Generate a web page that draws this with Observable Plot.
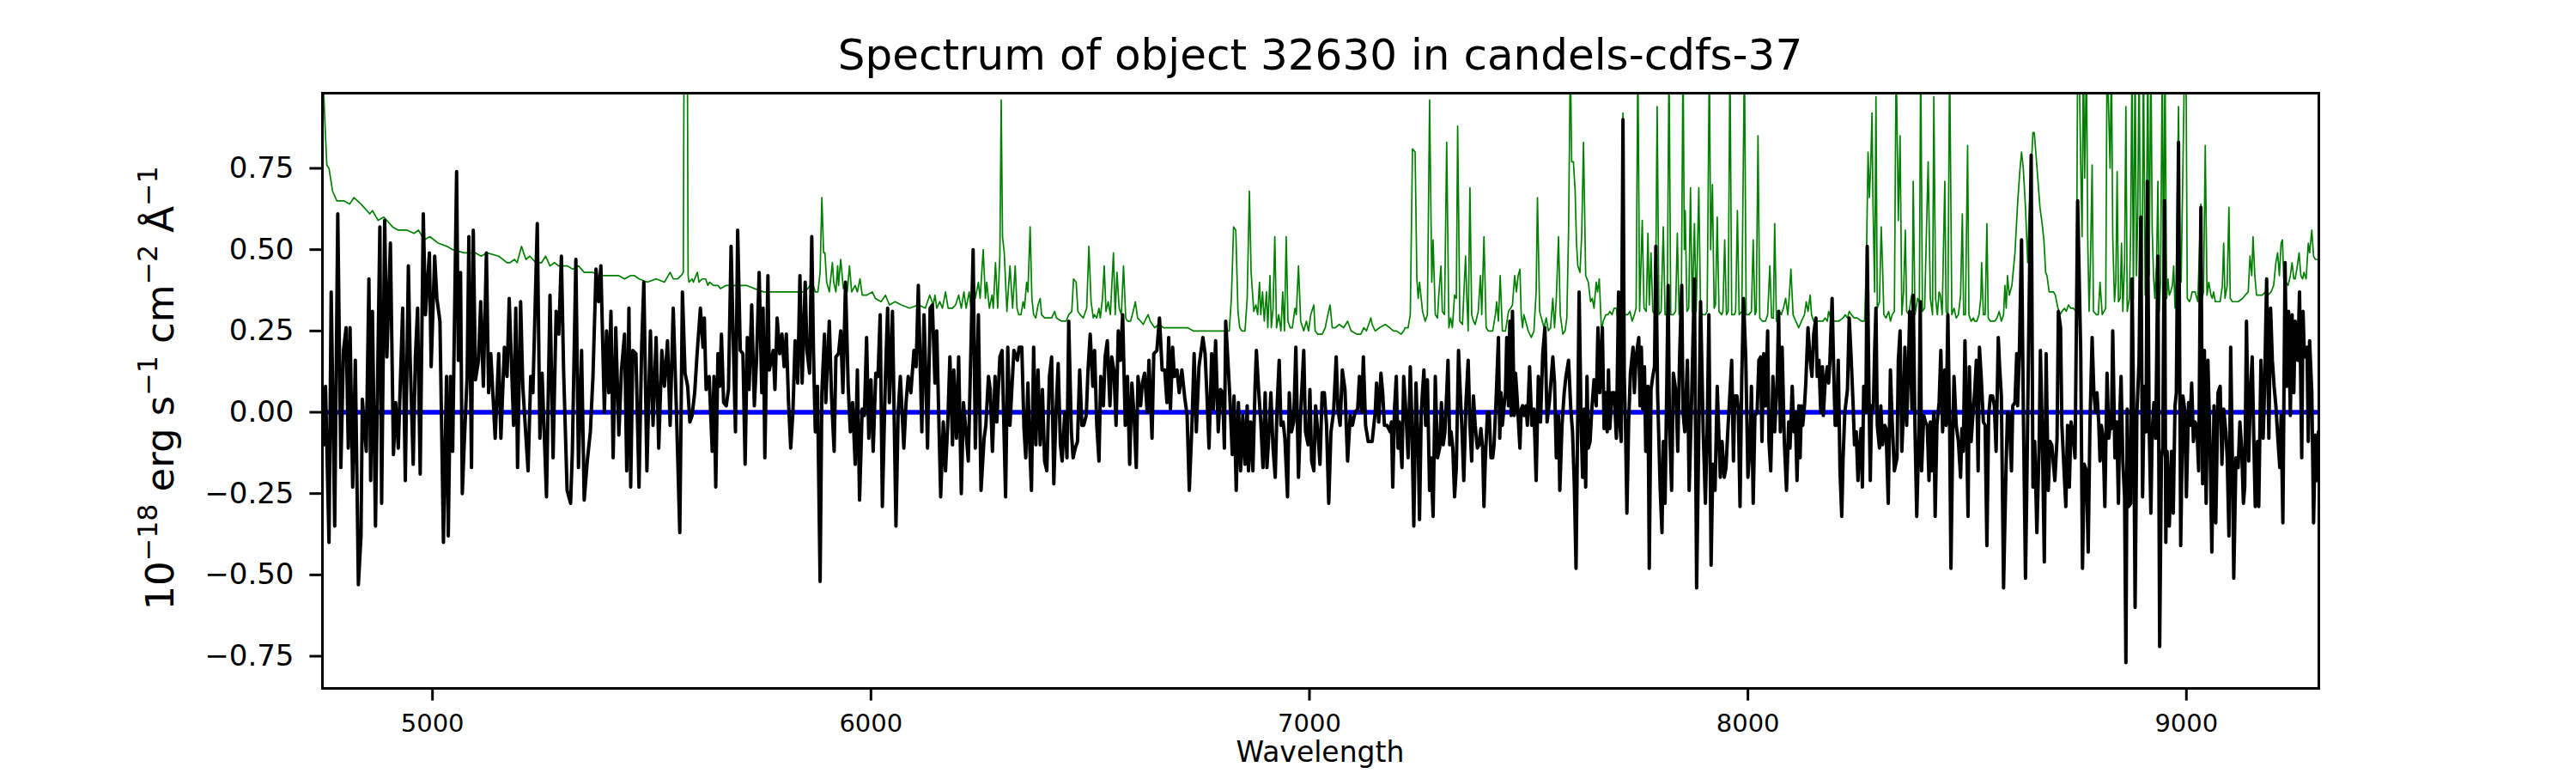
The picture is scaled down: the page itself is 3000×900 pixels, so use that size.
<!DOCTYPE html>
<html><head><meta charset="utf-8">
<script src="https://cdn.jsdelivr.net/npm/d3@7"></script>
<script src="https://cdn.jsdelivr.net/npm/@observablehq/plot@0.6"></script>
<style>html,body{margin:0;padding:0;background:#fff;} svg{display:block;}</style>
</head><body><div id="chart"></div>
<script>
const titleText = "Spectrum of object 32630 in candels-cdfs-37";
const xLabelText = "Wavelength";
const xTicks = [5000, 6000, 7000, 8000, 9000];
const yTicks = [-0.75, -0.5, -0.25, 0, 0.25, 0.5, 0.75];
const xDomain = [4749, 9302];
const yDomain = [-0.849, 0.981];
const modelLine = [[4749, 0], [9302, 0]];

const fluxPoints = [
[4750,0.07],[4752,-0.10],[4756,0.08],[4764,-0.40],[4769,0.37],[4777,-0.35],[4784,0.61],[4791,-0.17],[4797,0.19],[4803,0.26],[4808,-0.11],[4812,0.26],[4818,-0.23],[4824,0.16],[4831,-0.53],[4837,-0.38],[4840,0.04],[4849,-0.12],[4855,0.41],[4859,-0.21],[4863,0.31],[4870,-0.35],[4880,0.57],[4884,-0.28],[4891,0.59],[4896,0.17],[4904,0.52],[4911,-0.13],[4916,0.03],[4922,-0.11],[4932,0.32],[4938,-0.21],[4945,0.45],[4949,0.17],[4956,-0.16],[4961,0.17],[4966,0.32],[4972,-0.19],[4979,0.61],[4984,0.30],[4993,0.49],[4997,0.14],[5005,0.48],[5010,0.35],[5017,0.28],[5025,-0.40],[5032,0.11],[5036,-0.38],[5041,0.11],[5046,-0.12],[5055,0.74],[5059,0.16],[5064,0.43],[5068,-0.25],[5072,-0.11],[5079,0.11],[5083,0.54],[5089,-0.17],[5093,0.56],[5098,0.10],[5105,0.16],[5110,0.34],[5116,0.08],[5123,0.49],[5128,0.06],[5133,0.18],[5143,-0.08],[5151,0.18],[5156,-0.08],[5164,0.20],[5170,0.11],[5175,0.35],[5185,-0.04],[5190,0.32],[5194,-0.17],[5201,0.34],[5206,0.08],[5211,-0.03],[5218,-0.18],[5224,0.11],[5229,0.06],[5239,0.58],[5245,-0.08],[5250,0.12],[5260,-0.26],[5268,0.36],[5275,-0.14],[5282,0.31],[5288,0.24],[5294,0.48],[5299,0.13],[5307,-0.24],[5315,-0.28],[5319,-0.12],[5327,0.47],[5333,-0.17],[5340,0.19],[5346,-0.27],[5353,-0.15],[5360,-0.06],[5366,0.11],[5373,0.44],[5379,0.34],[5384,0.45],[5392,0.00],[5397,0.25],[5402,0.06],[5407,0.31],[5412,-0.14],[5418,0.26],[5425,-0.07],[5431,0.13],[5438,0.24],[5443,-0.18],[5448,0.32],[5452,-0.23],[5457,0.19],[5464,0.18],[5471,-0.23],[5477,0.20],[5482,0.40],[5489,-0.18],[5497,0.25],[5503,-0.04],[5510,0.23],[5516,-0.11],[5523,0.19],[5529,0.08],[5536,0.22],[5542,-0.04],
[5549,0.32],[5556,0.02],[5564,-0.37],[5570,0.37],[5576,0.12],[5582,0.08],[5587,-0.03],[5592,-0.01],[5598,0.06],[5603,0.17],[5611,0.32],[5617,0.20],[5620,0.29],[5624,0.07],[5631,0.11],[5638,-0.12],[5642,0.11],[5646,-0.23],[5651,0.18],[5655,0.08],[5659,0.24],[5664,0.03],[5670,0.02],[5675,0.07],[5681,0.51],[5687,0.16],[5691,-0.06],[5696,0.56],[5702,0.19],[5708,0.18],[5713,-0.16],[5718,0.23],[5722,0.07],[5728,0.33],[5734,0.02],[5739,0.16],[5745,0.43],[5751,0.06],[5754,0.32],[5758,-0.14],[5765,0.42],[5768,0.13],[5773,0.16],[5777,0.19],[5781,0.07],[5786,0.29],[5792,0.18],[5797,0.24],[5802,0.14],[5807,0.24],[5812,0.03],[5817,-0.11],[5822,0.00],[5827,0.22],[5833,0.09],[5838,0.42],[5843,0.09],[5850,0.40],[5854,0.19],[5860,0.12],[5865,0.54],[5869,0.18],[5873,-0.06],[5878,0.08],[5884,-0.52],[5888,0.06],[5894,0.24],[5897,0.03],[5905,0.28],[5910,0.05],[5916,-0.12],[5920,0.17],[5926,0.18],[5931,0.25],[5936,0.06],[5942,0.40],[5948,0.08],[5953,-0.06],[5958,0.03],[5964,-0.16],[5969,0.13],[5974,-0.27],[5980,0.01],[5985,-0.01],[5990,0.23],[5995,-0.08],[6000,0.10],[6005,-0.12],[6011,0.12],[6016,0.11],[6021,0.30],[6026,-0.29],[6033,0.11],[6038,0.32],[6042,0.03],[6049,0.31],[6057,-0.35],[6062,0.00],[6067,0.11],[6075,-0.11],[6080,0.03],[6085,0.11],[6091,0.06],[6098,0.19],[6103,0.14],[6108,0.39],[6116,-0.06],[6121,0.30],[6125,0.12],[6129,-0.11],[6135,0.32],[6140,0.33],[6146,0.09],[6150,0.25],[6159,-0.26],[6165,-0.03],[6170,-0.18],[6175,-0.04],[6180,0.17],[6186,-0.10],[6189,0.13],[6195,-0.08],[6200,0.17],[6206,-0.25],[6211,0.03],[6216,-0.05],[6222,-0.15],[6227,0.14],[6233,0.50],[6238,-0.11],[6245,0.30],[6251,-0.24],[6258,-0.08],[6262,-0.04],[6268,0.11],[6272,0.07],[6277,-0.12],[6283,0.11],[6287,-0.03],[6294,0.17],[6299,0.19],[6307,-0.26],[6312,0.20],[6317,-0.04],[6322,0.09],[6326,0.19],
[6334,0.16],[6338,0.20],[6344,0.20],[6349,-0.05],[6353,-0.14],[6358,0.09],[6362,-0.10],[6366,-0.24],[6371,0.20],[6376,-0.10],[6381,0.13],[6386,-0.10],[6391,0.07],[6396,-0.15],[6401,-0.18],[6407,0.11],[6412,0.17],[6417,-0.22],[6422,0.00],[6427,0.15],[6432,-0.10],[6436,-0.15],[6442,0.00],[6447,-0.14],[6451,0.28],[6457,-0.06],[6461,-0.14],[6466,-0.11],[6471,-0.09],[6476,0.13],[6481,-0.04],[6485,-0.04],[6491,-0.01],[6495,0.13],[6500,0.24],[6506,0.08],[6510,0.19],[6515,-0.04],[6520,-0.15],[6524,0.11],[6530,0.02],[6534,0.17],[6539,0.22],[6545,0.02],[6549,0.17],[6554,0.13],[6559,-0.04],[6564,0.25],[6569,0.16],[6574,0.30],[6580,-0.04],[6585,0.11],[6590,-0.16],[6595,0.09],[6600,-0.01],[6605,-0.17],[6609,0.11],[6615,0.02],[6619,0.09],[6624,0.12],[6630,0.00],[6634,0.16],[6641,-0.08],[6645,0.18],[6652,0.19],[6658,0.29],[6664,0.13],[6670,0.13],[6675,0.03],[6679,0.23],[6683,0.01],[6688,0.20],[6692,0.11],[6698,0.13],[6703,0.06],[6709,0.13],[6716,0.04],[6721,-0.01],[6726,-0.24],[6732,-0.04],[6737,0.18],[6742,-0.06],[6748,0.14],[6752,0.18],[6757,0.23],[6762,0.18],[6766,0.06],[6771,-0.11],[6777,0.18],[6781,0.01],[6786,0.22],[6792,-0.06],[6797,0.07],[6802,0.06],[6806,-0.11],[6809,0.28],[6814,0.16],[6818,0.06],[6824,-0.13],[6828,0.05],[6833,-0.24],[6838,0.03],[6843,-0.18],[6848,-0.01],[6853,-0.16],[6858,0.02],[6861,-0.18],[6866,-0.03],[6871,-0.18],[6876,0.08],[6879,0.19],[6884,0.07],[6889,-0.03],[6894,-0.17],[6899,0.06],[6903,-0.17],[6907,-0.08],[6912,0.06],[6917,-0.11],[6922,-0.20],[6926,0.01],[6931,0.16],[6935,-0.04],[6940,-0.03],[6944,-0.08],[6950,-0.26],[6954,0.06],[6959,-0.06],[6964,-0.03],[6969,0.20],[6975,-0.20],[6980,0.00],[6987,0.19],[6991,-0.06],[6997,-0.10],[7001,0.07],[7005,-0.15],[7010,-0.18],[7014,0.02],[7019,-0.06],[7024,-0.16],[7029,0.06],[7034,0.06],[7039,-0.04],[7044,-0.28],[7049,-0.06],[7055,0.00],[7061,0.17],[7065,0.01],[7070,-0.04],[7075,0.13],[7081,0.07],[7087,-0.15],[7093,-0.01],[7098,-0.04],[7104,0.00],[7110,0.01],[7114,0.11],[7119,0.00],[7123,0.17],[7128,-0.04],[7134,-0.09],
[7143,-0.09],[7150,0.00],[7153,0.09],[7158,-0.03],[7163,0.12],[7167,0.06],[7171,-0.04],[7177,-0.04],[7184,-0.06],[7187,-0.03],[7190,-0.23],[7194,0.01],[7198,0.11],[7202,-0.11],[7205,-0.03],[7211,-0.17],[7215,0.11],[7220,0.00],[7225,-0.14],[7230,0.14],[7233,0.00],[7238,-0.35],[7243,0.09],[7248,-0.11],[7251,-0.33],[7255,0.00],[7261,0.13],[7265,-0.04],[7269,0.10],[7274,-0.24],[7277,-0.14],[7282,-0.32],[7287,0.11],[7292,-0.14],[7297,-0.11],[7301,0.03],[7305,-0.10],[7309,-0.06],[7313,0.06],[7316,0.16],[7320,-0.10],[7323,-0.06],[7327,-0.11],[7331,-0.26],[7335,-0.17],[7340,0.19],[7344,0.06],[7348,-0.06],[7352,-0.21],[7357,0.03],[7362,0.16],[7366,-0.04],[7370,-0.15],[7374,0.05],[7378,-0.04],[7383,-0.11],[7387,-0.10],[7391,-0.05],[7395,-0.11],[7398,-0.29],[7401,-0.15],[7406,0.00],[7410,0.00],[7414,-0.14],[7418,-0.14],[7421,-0.10],[7426,0.05],[7431,0.23],[7434,-0.08],[7437,0.06],[7440,-0.04],[7444,0.02],[7447,0.06],[7450,0.23],[7454,0.02],[7457,0.28],[7460,-0.01],[7463,0.31],[7467,-0.01],[7470,0.12],[7473,0.06],[7480,-0.11],[7483,0.01],[7486,0.02],[7490,-0.01],[7494,0.02],[7497,-0.04],[7502,0.14],[7507,-0.04],[7512,0.01],[7517,-0.21],[7522,0.11],[7527,-0.03],[7532,0.18],[7537,0.26],[7542,-0.03],[7547,0.03],[7550,0.08],[7555,0.17],[7559,0.09],[7563,-0.14],[7568,-0.01],[7571,-0.24],[7576,-0.04],[7581,0.06],[7585,0.11],[7591,0.16],[7596,0.01],[7600,-0.06],[7604,-0.22],[7608,-0.48],[7612,0.00],[7615,0.37],[7620,-0.06],[7623,-0.20],[7627,0.01],[7630,-0.23],[7633,0.11],[7636,-0.11],[7640,-0.09],[7644,0.01],[7649,0.10],[7654,0.02],[7658,0.26],[7662,0.06],[7668,0.26],[7672,-0.05],[7676,0.06],[7679,-0.06],[7682,0.13],[7685,-0.05],[7690,0.06],[7695,0.06],[7700,-0.08],[7705,0.37],[7708,-0.04],[7711,-0.09],[7715,0.90],[7718,0.11],[7721,-0.06],[7724,-0.31],[7728,-0.03],[7732,0.12],[7738,0.20],[7741,0.06],[7745,0.17],[7751,0.23],[7754,0.02],[7757,0.20],[7760,0.01],[7764,0.14],[7767,-0.12],[7772,0.08],[7775,-0.48],[7779,0.07],[7783,0.11],[7787,0.14],[7790,0.51],[7794,0.06],[7800,-0.24],[7804,-0.37],[7807,-0.09],[7811,-0.28],[7815,0.09],[7818,0.39],[7821,-0.03],[7826,-0.24],[7830,0.12],[7836,0.06],[7840,-0.12],[7844,0.16],[7849,0.39],[7852,0.00],[7856,-0.06],[7862,0.16],[7866,-0.24],[7871,0.01],[7878,0.41],[7883,-0.54],[7888,-0.06],[7892,0.34],[7898,-0.06],[7903,-0.28],[7907,-0.06],[7911,0.30],[7916,-0.47],[7920,-0.16],[7925,-0.24],[7930,0.08],
[7937,-0.20],[7941,-0.09],[7946,-0.20],[7950,-0.17],[7954,-0.06],[7959,0.06],[7963,0.16],[7967,-0.15],[7970,0.05],[7975,0.05],[7978,0.01],[7982,-0.29],[7986,0.11],[7990,0.35],[7995,0.17],[8000,-0.20],[8005,-0.10],[8008,0.08],[8012,-0.28],[8016,-0.01],[8021,0.00],[8025,0.16],[8029,0.17],[8032,-0.09],[8036,0.18],[8040,0.02],[8045,0.25],[8048,-0.09],[8052,-0.18],[8057,0.11],[8061,-0.06],[8067,0.11],[8070,0.31],[8074,-0.06],[8078,0.20],[8083,-0.09],[8088,-0.24],[8093,-0.03],[8096,-0.11],[8101,0.08],[8105,-0.06],[8108,0.00],[8112,-0.21],[8116,0.02],[8119,-0.14],[8122,0.02],[8125,-0.04],[8129,0.02],[8132,0.09],[8137,0.26],[8142,0.16],[8146,0.11],[8150,0.24],[8155,0.29],[8158,0.11],[8162,0.16],[8166,0.00],[8170,0.14],[8172,-0.01],[8176,0.09],[8181,0.14],[8184,0.09],[8187,0.16],[8192,0.35],[8196,0.11],[8199,-0.04],[8202,-0.04],[8206,0.16],[8210,-0.18],[8214,-0.32],[8217,-0.14],[8221,0.00],[8227,0.07],[8231,0.29],[8235,0.18],[8240,0.02],[8243,-0.10],[8247,-0.06],[8251,-0.21],[8254,-0.12],[8258,-0.05],[8261,-0.23],[8264,0.08],[8269,0.00],[8272,0.51],[8276,0.07],[8279,-0.21],[8282,0.02],[8286,0.01],[8289,0.19],[8292,0.32],[8295,-0.04],[8300,-0.11],[8303,0.02],[8307,-0.10],[8312,-0.04],[8315,-0.05],[8320,-0.28],[8325,0.13],[8329,-0.03],[8334,-0.18],[8340,-0.14],[8343,0.16],[8347,0.25],[8351,-0.12],[8355,0.02],[8358,0.20],[8362,-0.04],[8366,0.14],[8369,0.31],[8374,0.01],[8377,0.36],[8381,-0.05],[8385,-0.32],[8390,-0.06],[8393,0.34],[8396,-0.18],[8401,-0.01],[8405,-0.03],[8409,-0.04],[8413,-0.21],[8416,-0.03],[8419,-0.18],[8424,0.00],[8427,-0.32],[8431,-0.04],[8436,0.03],[8440,0.19],[8444,-0.06],[8449,0.13],[8452,-0.04],[8456,0.30],[8460,-0.04],[8463,-0.48],[8467,-0.08],[8470,0.11],[8475,-0.04],[8480,-0.09],[8485,-0.20],[8488,-0.05],[8491,-0.12],[8495,0.22],[8499,-0.09],[8502,-0.32],[8505,0.14],[8509,-0.09],[8513,-0.01],[8517,0.06],[8521,0.16],[8525,-0.18],[8528,0.20],[8532,0.11],[8537,-0.03],[8541,-0.04],[8545,-0.41],[8549,-0.01],[8553,0.05],[8558,0.05],[8562,0.02],[8566,-0.12],[8571,0.23],[8574,0.14],[8578,0.05],[8583,-0.54],[8588,-0.21],[8592,0.00],[8596,-0.01],[8601,-0.18],[8604,0.02],[8609,0.03],[8613,0.18],[8615,0.02],[8619,0.18],[8624,0.53],[8628,0.02],[8633,-0.51],[8636,-0.23],[8641,0.30],[8646,0.79],[8650,-0.23],[8654,-0.09],[8659,-0.37],[8664,-0.11],[8667,0.19],[8671,-0.04],[8676,-0.46],[8680,0.18],[8685,-0.24],[8689,-0.09],[8693,-0.10],[8700,-0.21],[8705,-0.08],[8708,0.31],[8713,0.26],[8716,-0.04],[8721,-0.18],[8725,-0.29],[8729,-0.04],[8733,-0.23],[8737,-0.03],[8741,-0.06],[8746,-0.14],[8752,0.65],
[8759,0.18],[8763,-0.48],[8767,-0.16],[8772,-0.18],[8776,-0.43],[8780,-0.04],[8785,0.23],[8789,0.06],[8793,0.00],[8796,0.06],[8800,-0.03],[8803,-0.15],[8806,-0.04],[8810,-0.08],[8814,-0.29],[8819,0.12],[8823,-0.08],[8826,-0.04],[8829,-0.05],[8832,0.25],[8837,-0.14],[8841,-0.03],[8845,-0.28],[8848,-0.01],[8851,0.11],[8855,-0.15],[8859,-0.26],[8862,-0.77],[8865,0.01],[8868,-0.29],[8873,-0.28],[8876,0.41],[8880,-0.03],[8883,-0.60],[8887,-0.01],[8892,0.16],[8896,0.60],[8900,-0.26],[8904,0.08],[8908,-0.06],[8911,0.71],[8915,-0.04],[8919,-0.31],[8922,-0.06],[8926,0.03],[8930,-0.08],[8935,0.48],[8939,-0.72],[8943,-0.14],[8946,-0.11],[8950,0.65],[8953,-0.40],[8956,-0.12],[8961,-0.35],[8966,-0.12],[8970,-0.31],[8974,0.02],[8977,0.06],[8982,0.83],[8987,-0.41],[8992,0.05],[8996,0.01],[9000,-0.26],[9005,0.03],[9008,-0.04],[9012,0.09],[9016,-0.09],[9020,-0.03],[9024,-0.05],[9028,-0.18],[9033,0.63],[9037,-0.22],[9041,0.19],[9045,-0.28],[9049,0.16],[9054,-0.11],[9058,-0.43],[9063,0.02],[9067,-0.34],[9072,0.06],[9077,0.08],[9081,-0.16],[9085,0.01],[9090,-0.06],[9093,-0.14],[9097,-0.38],[9101,0.20],[9105,-0.16],[9108,-0.51],[9113,-0.14],[9118,-0.17],[9122,-0.03],[9126,-0.11],[9130,-0.28],[9133,-0.23],[9137,0.28],[9142,-0.15],[9146,0.06],[9150,0.17],[9154,-0.10],[9157,-0.29],[9162,-0.09],[9165,-0.29],[9170,0.16],[9175,-0.08],[9178,0.06],[9183,0.41],[9188,-0.08],[9192,0.32],[9196,0.16],[9200,0.08],[9204,0.02],[9209,-0.09],[9213,-0.17],[9216,-0.01],[9220,-0.34],[9225,0.46],[9229,0.08],[9233,0.31],[9237,-0.01],[9241,0.30],[9245,0.06],[9248,0.28],[9254,0.16],[9258,0.37],[9263,-0.14],[9266,0.31],[9269,0.17],[9275,0.20],[9278,-0.09],[9281,0.22],[9286,0.06],[9290,-0.34],[9294,-0.07],[9298,-0.21],[9301,-0.06]
];

const noisePoints = [
[4749,1.05],[4752,0.98],[4756,0.85],[4759,0.76],[4764,0.75],[4772,0.68],[4782,0.65],[4798,0.65],[4811,0.64],[4821,0.66],[4837,0.64],[4857,0.61],[4863,0.62],[4876,0.59],[4889,0.60],[4909,0.57],[4922,0.56],[4942,0.56],[4958,0.55],[4968,0.56],[4981,0.53],[4994,0.54],[5013,0.52],[5033,0.51],[5046,0.50],[5072,0.49],[5098,0.49],[5111,0.48],[5124,0.49],[5151,0.48],[5170,0.46],[5177,0.46],[5187,0.47],[5193,0.46],[5203,0.51],[5213,0.47],[5222,0.48],[5236,0.46],[5249,0.46],[5258,0.48],[5268,0.45],[5278,0.46],[5288,0.45],[5307,0.45],[5320,0.44],[5333,0.45],[5346,0.43],[5366,0.43],[5379,0.42],[5405,0.42],[5425,0.42],[5438,0.41],[5451,0.42],[5461,0.42],[5471,0.41],[5490,0.40],[5510,0.41],
[5529,0.40],[5542,0.43],[5549,0.41],[5559,0.41],[5567,0.42],[5572,0.43],[5575,1.6],[5580,1.6],[5583,0.42],[5585,0.40],[5592,0.41],[5595,0.40],[5604,0.43],[5608,0.40],[5615,0.41],[5623,0.41],[5628,0.39],[5632,0.40],[5641,0.39],[5651,0.39],[5657,0.38],[5670,0.39],[5690,0.39],[5716,0.39],[5735,0.38],[5755,0.37],[5781,0.37],[5807,0.37],[5833,0.37],[5847,0.37],[5856,0.38],[5866,0.40],[5873,0.37],[5879,0.37],[5884,0.43],[5888,0.66],[5892,0.49],[5895,0.49],[5899,0.40],[5905,0.37],[5912,0.46],[5915,0.40],[5920,0.37],[5924,0.45],[5926,0.39],[5931,0.47],[5937,0.38],[5941,0.40],[5946,0.37],[5951,0.45],[5956,0.37],[5964,0.39],[5969,0.37],[5975,0.41],[5980,0.36],[5990,0.36],[6003,0.37],[6010,0.35],[6023,0.34],[6033,0.36],[6042,0.33],[6055,0.34],[6069,0.33],[6088,0.32],[6108,0.33],[6124,0.32],[6134,0.36],[6142,0.33],[6146,0.36],[6150,0.32],[6157,0.34],[6163,0.32],[6170,0.37],[6176,0.32],[6186,0.32],[6193,0.33],[6200,0.36],[6206,0.32],[6212,0.37],[6217,0.32],[6224,0.37],[6229,0.31],[6234,0.41],[6238,0.35],[6245,0.40],[6249,0.35],[6256,0.50],[6261,0.35],[6264,0.40],[6270,0.32],[6276,0.36],[6279,0.32],[6284,0.46],[6289,0.32],[6294,0.48],[6297,0.96],[6300,0.54],[6304,0.49],[6310,0.31],[6317,0.45],[6323,0.32],
[6329,0.45],[6333,0.32],[6337,0.30],[6342,0.30],[6347,0.34],[6350,0.32],[6355,0.40],[6358,0.37],[6363,0.57],[6367,0.35],[6371,0.30],[6376,0.29],[6381,0.33],[6386,0.35],[6389,0.30],[6396,0.29],[6406,0.29],[6412,0.29],[6419,0.31],[6423,0.29],[6435,0.28],[6445,0.28],[6451,0.30],[6458,0.31],[6462,0.41],[6468,0.40],[6472,0.31],[6477,0.30],[6484,0.29],[6492,0.32],[6497,0.51],[6502,0.34],[6507,0.29],[6510,0.30],[6515,0.29],[6520,0.32],[6523,0.29],[6528,0.35],[6532,0.45],[6536,0.31],[6541,0.34],[6546,0.30],[6553,0.49],[6557,0.30],[6561,0.43],[6566,0.32],[6571,0.30],[6576,0.45],[6581,0.29],[6585,0.28],[6592,0.28],[6598,0.31],[6603,0.34],[6608,0.29],[6615,0.28],[6621,0.27],[6628,0.29],[6632,0.30],[6637,0.28],[6647,0.26],[6657,0.27],[6667,0.26],[6677,0.26],[6686,0.26],[6696,0.26],[6709,0.26],[6722,0.26],[6735,0.25],[6748,0.25],[6762,0.25],[6781,0.25],[6794,0.25],[6807,0.25],[6817,0.25],[6822,0.35],[6827,0.57],[6832,0.56],[6837,0.31],[6841,0.26],[6846,0.25],[6853,0.25],[6858,0.35],[6863,0.68],[6867,0.43],[6873,0.31],[6878,0.33],[6882,0.30],[6886,0.40],[6889,0.30],[6893,0.37],[6897,0.28],[6902,0.37],[6905,0.26],[6910,0.42],[6913,0.26],[6917,0.32],[6921,0.54],[6925,0.26],[6930,0.30],[6935,0.25],[6939,0.37],[6943,0.25],[6947,0.54],[6951,0.28],[6956,0.26],[6961,0.26],[6967,0.32],[6970,0.30],[6975,0.45],[6980,0.28],[6987,0.25],[6993,0.28],[6998,0.25],[7003,0.30],[7010,0.33],[7013,0.25],[7019,0.24],[7029,0.24],[7036,0.26],[7042,0.30],[7047,0.33],[7052,0.26],[7059,0.26],[7068,0.27],[7078,0.26],[7087,0.28],[7095,0.25],[7108,0.24],[7117,0.24],[7124,0.26],[7130,0.25],[7140,0.29],
[7143,0.27],[7150,0.25],[7160,0.26],[7173,0.27],[7183,0.26],[7192,0.25],[7199,0.25],[7209,0.24],[7215,0.25],[7218,0.26],[7225,0.26],[7230,0.30],[7235,0.81],[7241,0.80],[7245,0.41],[7248,0.35],[7251,0.40],[7258,0.31],[7264,0.28],[7269,0.30],[7274,0.96],[7279,0.40],[7282,0.53],[7287,0.30],[7292,0.29],[7295,0.36],[7300,0.45],[7303,0.31],[7308,0.30],[7313,0.83],[7318,0.26],[7322,0.29],[7326,0.26],[7331,0.36],[7335,0.35],[7338,0.88],[7343,0.28],[7349,0.27],[7356,0.48],[7359,0.35],[7362,0.25],[7366,0.69],[7370,0.30],[7374,0.28],[7378,0.27],[7385,0.31],[7390,0.42],[7393,0.30],[7398,0.54],[7403,0.26],[7408,0.25],[7418,0.25],[7424,0.30],[7427,0.34],[7431,0.28],[7435,0.42],[7440,0.25],[7447,0.25],[7454,0.31],[7459,0.32],[7463,0.33],[7468,0.42],[7472,0.37],[7476,0.42],[7480,0.44],[7483,0.30],[7486,0.26],[7489,0.30],[7493,0.28],[7499,0.25],[7506,0.23],[7512,0.25],[7517,0.37],[7520,0.66],[7525,0.31],[7531,0.28],[7535,0.26],[7540,0.29],[7545,0.25],[7550,0.26],[7555,0.35],[7559,0.26],[7563,0.35],[7568,0.54],[7572,0.30],[7578,0.24],[7583,0.25],[7587,0.29],[7591,0.56],[7595,1.1],[7598,0.77],[7602,0.77],[7606,0.68],[7609,0.52],[7612,0.45],[7617,0.43],[7621,0.55],[7625,0.83],[7630,0.42],[7636,0.40],[7641,0.34],[7645,0.35],[7649,0.32],[7654,0.40],[7657,0.37],[7661,0.41],[7666,0.25],[7670,0.28],[7676,0.30],[7681,0.30],[7685,0.31],[7690,0.30],[7695,0.32],[7700,0.32],
[7704,0.27],[7710,0.30],[7715,0.92],[7719,0.30],[7726,0.30],[7731,0.31],[7736,0.28],[7741,0.30],[7745,0.32],[7749,1.1],[7753,0.31],[7759,0.59],[7763,0.32],[7768,0.31],[7772,0.55],[7775,0.33],[7779,0.49],[7783,0.31],[7789,0.30],[7793,0.94],[7797,0.30],[7802,0.31],[7807,0.57],[7811,0.30],[7816,0.30],[7820,1.1],[7824,0.30],[7830,0.30],[7835,0.31],[7839,0.55],[7843,0.30],[7848,0.31],[7852,1.1],[7855,0.50],[7857,0.62],[7861,0.31],[7865,0.32],[7869,0.69],[7873,0.31],[7878,0.58],[7882,0.31],[7888,0.69],[7892,0.31],[7897,0.30],[7903,0.30],[7907,0.31],[7912,1.1],[7915,0.50],[7919,0.70],[7923,0.32],[7926,0.33],[7930,0.60],[7934,0.31],[7940,0.30],[7943,0.31],[7947,0.53],[7951,0.30],[7955,0.31],[7959,1.1],[7963,0.30],[7969,0.30],[7972,0.31],[7976,0.62],[7980,0.30],[7986,0.31],[7992,1.1],[7996,0.30],[8002,0.30],[8008,0.31],[8012,0.53],[8016,0.30],[8019,0.31],[8023,0.85],[8027,0.29],[8033,0.28],[8040,0.28],[8045,0.30],[8050,0.45],[8054,0.29],[8058,0.29],[8061,0.58],[8065,0.28],
[8068,0.29],[8072,0.31],[8076,0.30],[8081,0.32],[8086,0.35],[8091,0.30],[8094,0.35],[8098,0.44],[8103,0.30],[8109,0.28],[8116,0.26],[8122,0.28],[8129,0.30],[8133,0.34],[8137,0.31],[8142,0.36],[8145,0.30],[8150,0.28],[8155,0.28],[8165,0.28],[8171,0.28],[8176,0.29],[8181,0.28],[8184,0.31],[8191,0.28],[8199,0.28],[8207,0.28],[8217,0.29],[8222,0.30],[8227,0.29],[8231,0.31],[8236,0.30],[8242,0.29],[8249,0.29],[8259,0.28],[8266,0.28],[8270,0.45],[8274,0.80],[8277,0.66],[8280,0.76],[8283,0.92],[8285,0.66],[8289,0.37],[8292,0.97],[8295,0.32],[8300,0.34],[8304,0.57],[8307,0.45],[8310,0.30],[8315,0.29],[8321,0.31],[8325,0.28],[8329,0.30],[8334,0.31],[8338,1.1],[8343,0.59],[8347,0.85],[8351,0.30],[8355,0.37],[8359,0.56],[8362,0.31],[8367,0.30],[8372,0.35],[8375,0.37],[8377,0.71],[8381,0.30],[8387,0.35],[8391,0.34],[8394,1.1],[8398,0.31],[8403,0.32],[8406,0.49],[8411,0.77],[8416,0.35],[8421,0.30],[8424,0.97],[8428,0.35],[8432,0.30],[8436,0.37],[8439,0.36],[8443,0.30],[8449,0.71],[8452,0.31],[8456,0.30],[8460,1.1],[8465,0.30],[8470,0.32],[8475,0.29],[8480,0.30],[8485,0.36],[8489,0.61],[8492,0.30],[8496,0.30],[8501,0.82],[8504,0.30],[8509,0.28],[8514,0.29],[8517,0.28],[8522,0.28],[8527,0.30],[8531,0.35],[8533,0.46],[8537,0.30],[8541,0.30],[8545,0.58],[8548,0.29],[8553,0.28],[8558,0.28],[8563,0.28],[8568,0.29],[8573,0.31],[8578,0.28],[8583,0.30],[8586,0.39],[8589,0.32],[8592,0.42],[8596,0.36],[8602,0.39],[8609,0.49],[8615,0.64],[8620,0.74],[8624,0.80],[8628,0.75],[8633,0.63],[8638,0.46],[8641,0.60],[8646,0.75],[8650,0.86],[8653,0.86],[8656,0.81],[8661,0.72],[8666,0.63],[8671,0.58],[8675,0.53],[8679,0.43],[8682,0.42],[8687,0.37],[8692,0.37],[8697,0.37],[8701,0.36],[8707,0.32],[8712,0.30],[8716,0.31],[8722,0.32],[8726,0.31],[8731,0.33],[8736,0.32],[8742,0.32],[8749,0.31],
[8752,1.1],[8755,1.1],[8759,0.76],[8762,0.54],[8765,1.1],[8768,0.72],[8772,1.1],[8775,0.53],[8778,0.31],[8781,0.45],[8785,0.76],[8788,0.31],[8795,0.30],[8799,0.30],[8803,0.40],[8808,0.30],[8812,0.31],[8816,0.32],[8819,1.1],[8823,0.91],[8826,0.75],[8829,1.1],[8832,0.54],[8836,0.34],[8839,0.40],[8842,0.74],[8845,0.34],[8849,0.35],[8852,0.52],[8855,0.31],[8859,0.46],[8862,0.94],[8865,0.31],[8870,0.35],[8873,0.57],[8876,1.1],[8879,0.35],[8883,1.1],[8886,0.42],[8889,0.60],[8892,1.1],[8896,0.35],[8899,0.42],[8902,1.1],[8906,0.36],[8909,0.60],[8912,1.1],[8915,0.42],[8919,1.1],[8922,0.56],[8925,0.42],[8928,0.35],[8932,0.46],[8935,0.71],[8938,0.31],[8941,0.40],[8945,1.1],[8948,0.35],[8951,1.1],[8955,0.35],[8958,0.41],[8961,0.36],[8964,0.37],[8968,0.39],[8971,0.45],[8974,0.32],[8977,0.41],[8982,0.94],[8985,0.51],[8988,0.40],[8992,0.75],[8996,1.1],[8999,1.1],[9002,0.35],[9007,0.34],[9010,0.35],[9013,0.37],[9017,0.37],[9020,0.37],[9026,0.34],[9033,0.64],[9036,0.35],[9039,0.37],[9043,0.82],[9047,0.36],[9051,0.40],[9056,0.36],[9059,0.35],[9062,0.37],[9066,0.34],[9072,0.34],[9077,0.34],[9082,0.39],[9085,0.52],[9088,0.35],[9093,0.39],[9097,0.63],[9100,0.35],[9105,0.34],[9111,0.34],[9118,0.34],[9128,0.35],[9134,0.36],[9141,0.37],[9145,0.48],[9149,0.42],[9152,0.54],[9156,0.42],[9160,0.36],[9167,0.36],[9173,0.36],[9180,0.37],[9186,0.36],[9193,0.37],[9199,0.39],[9204,0.46],[9208,0.49],[9212,0.42],[9216,0.52],[9219,0.53],[9222,0.41],[9227,0.40],[9232,0.39],[9237,0.42],[9241,0.46],[9245,0.41],[9248,0.41],[9253,0.45],[9257,0.49],[9261,0.42],[9265,0.41],[9268,0.43],[9273,0.41],[9278,0.52],[9281,0.49],[9286,0.56],[9290,0.48],[9294,0.47],[9299,0.47],[9302,0.47]
];

const FONT = "DejaVu Sans";
const fmtY = d => (d < 0 ? "\u2212" : "") + Math.abs(d).toFixed(2);

const plot = Plot.plot({
  width: 3000, height: 900,
  marginLeft: 375, marginRight: 300, marginTop: 108, marginBottom: 99,
  style: {fontFamily: FONT, background: "white", color: "black"},
  x: {domain: xDomain, label: null},
  y: {domain: yDomain, label: null},
  marks: [
    Plot.line(noisePoints, {x: d => d[0], y: d => d[1], stroke: "#008000", strokeWidth: 1.7, clip: true}),
    Plot.line(modelLine, {x: d => d[0], y: d => d[1], stroke: "#0000ff", strokeWidth: 5.5, clip: true}),
    Plot.line(fluxPoints, {x: d => d[0], y: d => d[1], stroke: "black", strokeWidth: 4, clip: true}),
    Plot.frame({stroke: "black", strokeWidth: 3}),
    Plot.axisX({ticks: xTicks, tickFormat: d => String(d), tickSize: 14.6, tickPadding: 15.8, fontSize: 29, strokeWidth: 3, label: null}),
    Plot.axisY({ticks: yTicks, tickFormat: fmtY, tickSize: 14.6, tickPadding: 18.4, fontSize: 34, strokeWidth: 3, label: null})
  ]
});

const svg = d3.select(plot);
svg.append("text")
  .attr("x", 1537.5).attr("y", 81)
  .attr("text-anchor", "middle")
  .style("font-family", FONT).style("font-size", "50px").attr("fill", "black")
  .text(titleText);
svg.append("text")
  .attr("x", 1537.5).attr("y", 887)
  .attr("text-anchor", "middle")
  .style("font-family", FONT).style("font-size", "33px").attr("fill", "black")
  .text(xLabelText);

const yLabelParts = [["10", false], ["\u221218", true], [" erg s", false], ["\u22121", true], [" cm", false], ["\u22122", true], [" \u00c5", false], ["\u22121", true]];
const yl = svg.append("text")
  .attr("transform", "translate(202,452) rotate(-90)")
  .attr("text-anchor", "middle")
  .style("font-family", FONT).style("font-size", "45px").attr("fill", "black")
  .attr("xml:space", "preserve").style("white-space", "pre");
let raised = false;
for (const [t, sup] of yLabelParts) {
  const ts = yl.append("tspan").text(t);
  if (sup && !raised) { ts.attr("dy", -19).style("font-size", "31.5px"); raised = true; }
  else if (sup) { ts.style("font-size", "31.5px"); }
  else if (!sup && raised) { ts.attr("dy", 19); raised = false; }
}

document.getElementById("chart").appendChild(plot);
</script>
</body></html>
